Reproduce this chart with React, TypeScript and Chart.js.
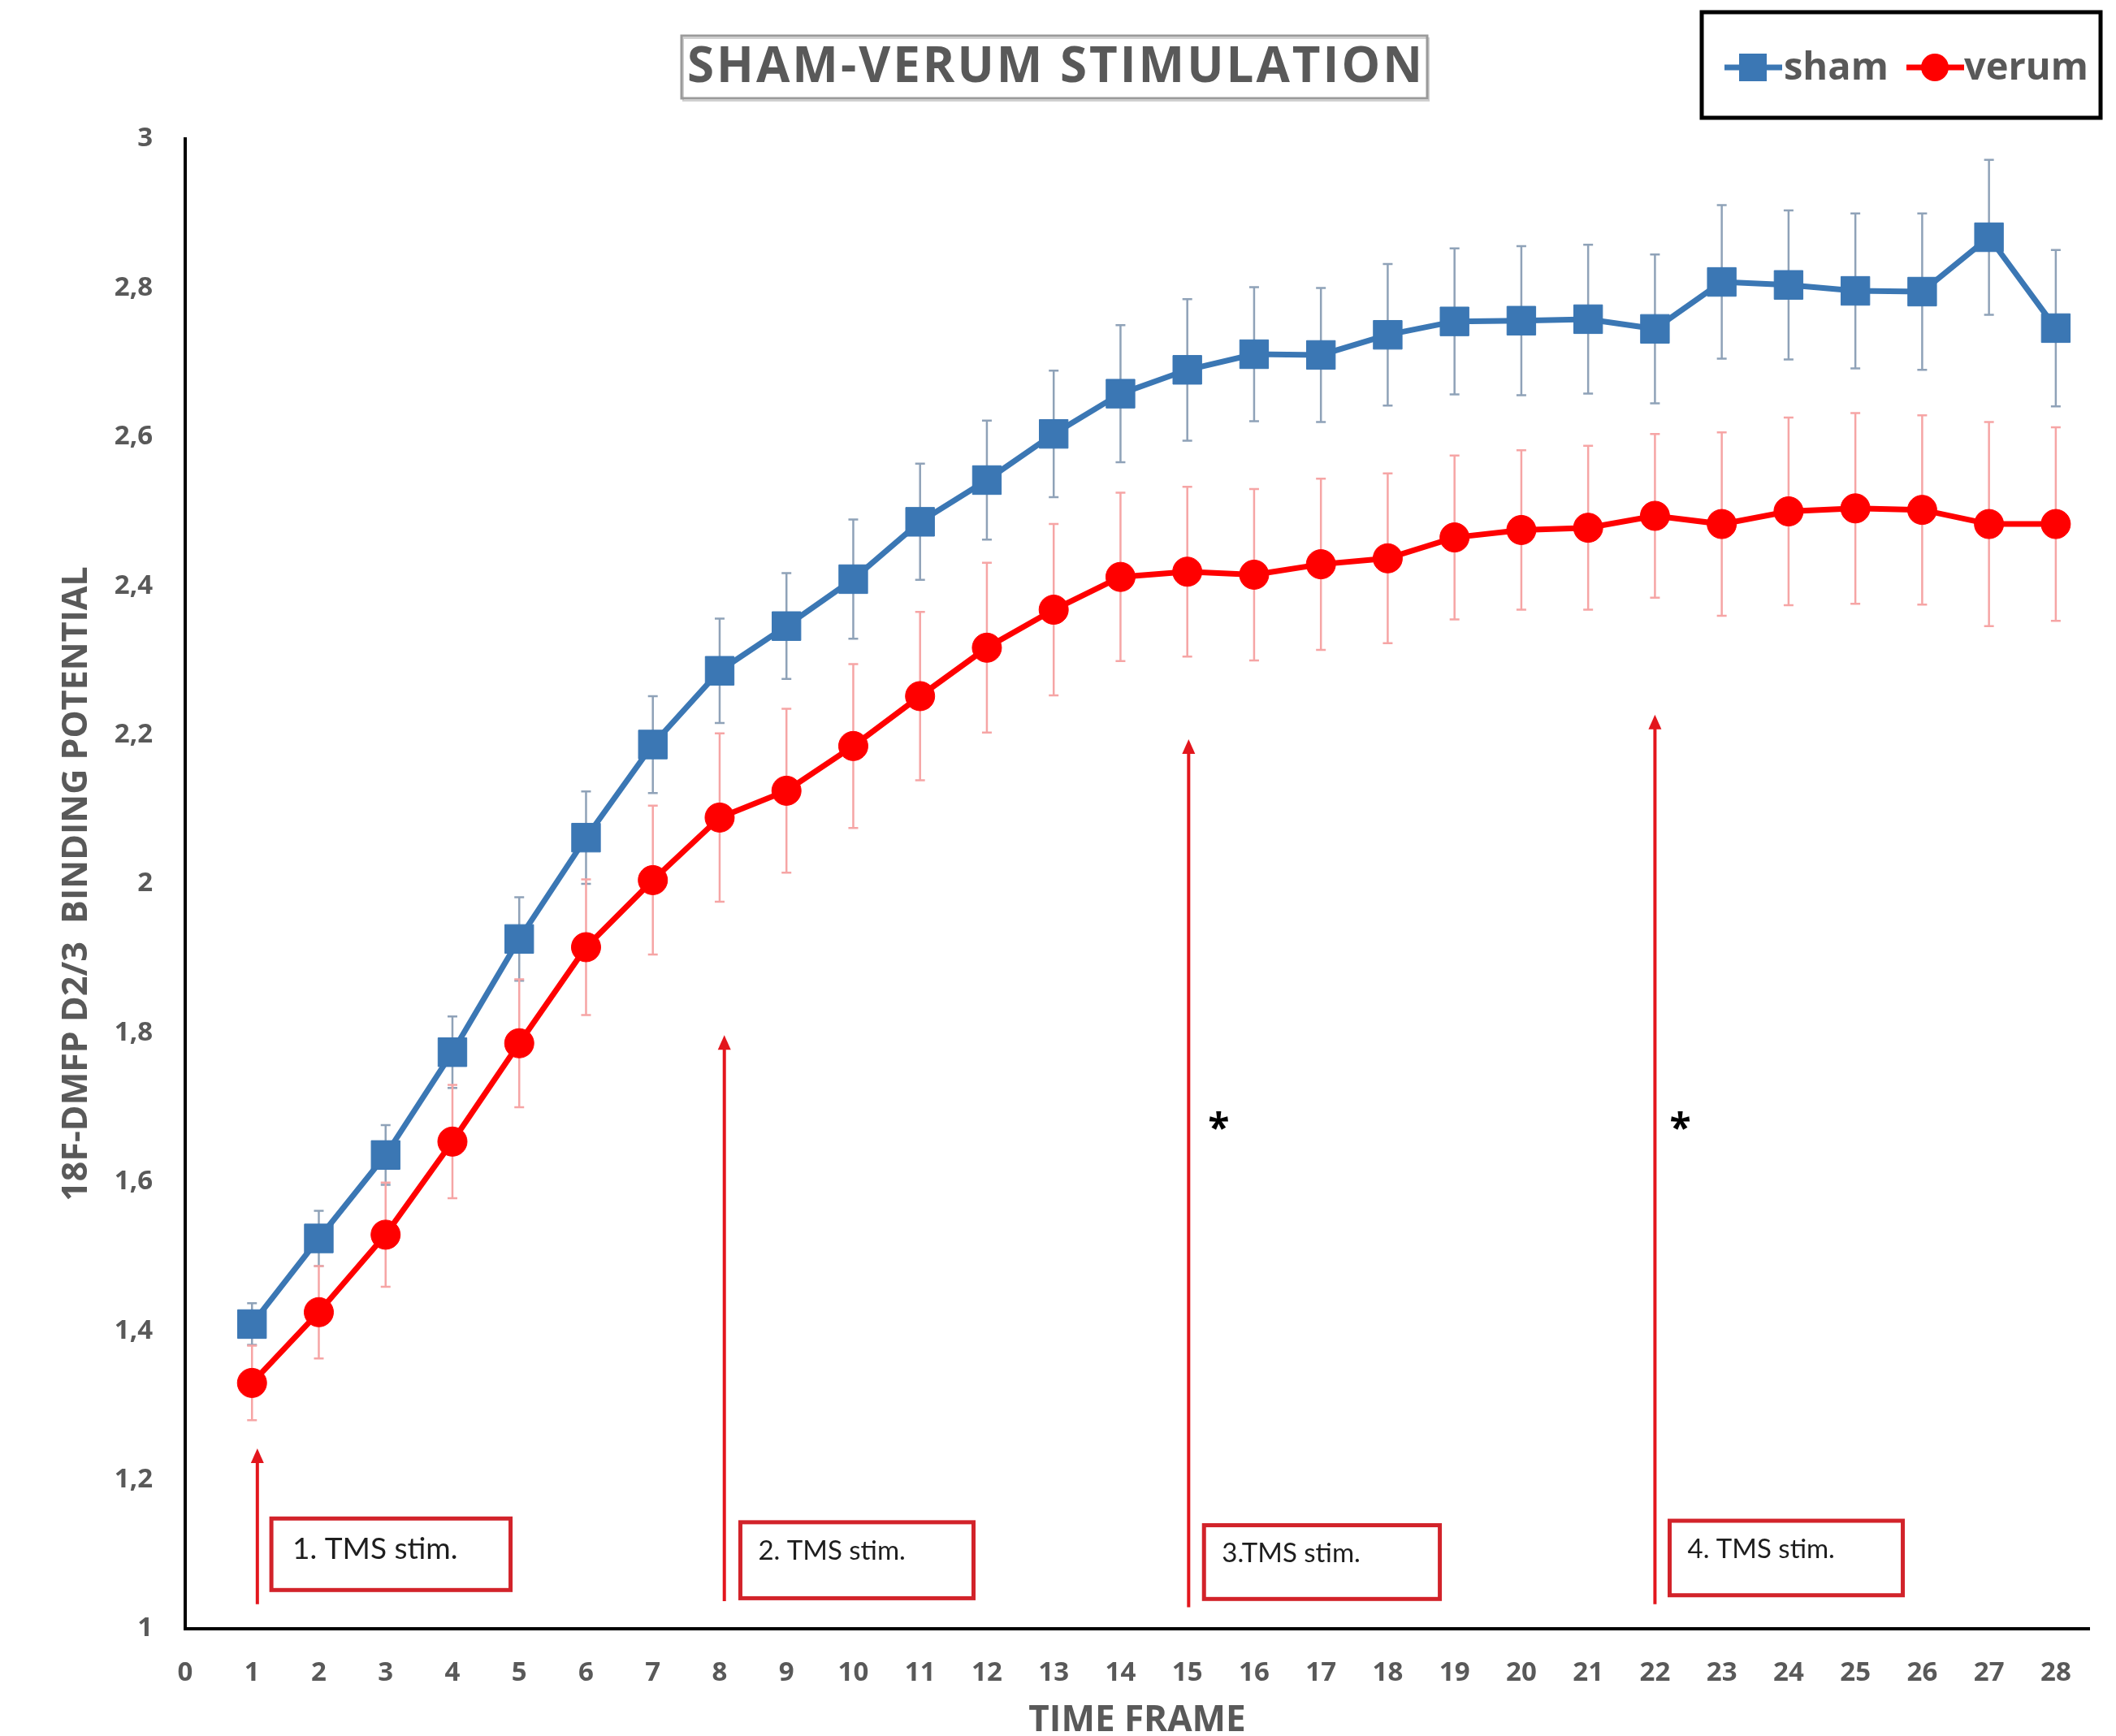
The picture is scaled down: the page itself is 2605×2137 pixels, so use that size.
import React, { useEffect, useRef } from 'react';
import { Chart, registerables } from 'chart.js';

Chart.register(...registerables);

// ---------- data ----------
const frames = [1, 2, 3, 4, 5, 6, 7, 8, 9, 10, 11, 12, 13, 14, 15, 16, 17, 18, 19, 20, 21, 22, 23, 24, 25, 26, 27, 28];
const xTickValues = [0, 1, 2, 3, 4, 5, 6, 7, 8, 9, 10, 11, 12, 13, 14, 15, 16, 17, 18, 19, 20, 21, 22, 23, 24, 25, 26, 27, 28];

const shamValues = [1.409, 1.524, 1.636, 1.774, 1.926, 2.062, 2.187, 2.286, 2.346, 2.409, 2.486, 2.542, 2.604, 2.658, 2.690, 2.711, 2.710, 2.737, 2.755, 2.756, 2.758, 2.745, 2.808, 2.804, 2.796, 2.795, 2.868, 2.746];
const shamErrors = [0.028, 0.037, 0.04, 0.048, 0.056, 0.062, 0.065, 0.07, 0.071, 0.08, 0.078, 0.08, 0.085, 0.092, 0.095, 0.09, 0.09, 0.095, 0.098, 0.1, 0.1, 0.1, 0.103, 0.1, 0.104, 0.105, 0.104, 0.105];

const verumValues = [1.330, 1.425, 1.529, 1.654, 1.786, 1.915, 2.005, 2.089, 2.125, 2.185, 2.252, 2.317, 2.368, 2.412, 2.419, 2.415, 2.429, 2.437, 2.465, 2.475, 2.478, 2.494, 2.483, 2.500, 2.504, 2.502, 2.483, 2.483];
const verumErrors = [0.05, 0.062, 0.07, 0.076, 0.086, 0.091, 0.1, 0.113, 0.11, 0.11, 0.113, 0.114, 0.115, 0.113, 0.114, 0.115, 0.115, 0.114, 0.11, 0.107, 0.11, 0.11, 0.123, 0.126, 0.128, 0.127, 0.137, 0.13];

const seriesNames = ['sham', 'verum'];
const chartTitle = 'SHAM-VERUM STIMULATION';
const xTitle = 'TIME FRAME';
const yTitle = '18F-DMFP D2/3  BINDING POTENTIAL';

// stimulation annotations (data units)
const stimLabels = ['1. TMS stim.', '2. TMS stim.', '3.TMS stim.', '4. TMS stim.'];
const stimArrowX = [1.08, 8.07, 15.02, 22.0];
const stimArrowTop = [1.242, 1.797, 2.194, 2.227];
const stimArrowBottom = [1.033, 1.037, 1.029, 1.033];
const stimBoxLeft = [1.29, 8.31, 15.25, 22.22];
const stimBoxRight = [4.87, 11.8, 18.78, 25.71];
const stimBoxTop = [1.148, 1.143, 1.139, 1.145];
const stimBoxBottom = [1.052, 1.041, 1.04, 1.045];
const asteriskX = [15.47, 22.38];
const asteriskY = [1.683, 1.683];

// ---------- styles ----------
const BLUE = '#3b77b4';
const RED = '#ff0000';
const GRAY_TEXT = '#595959';
const SHAM_ERR = '#8fa2b8';
const VERUM_ERR = '#f6a5a5';
const BOX_RED = '#d2232a';

const errorBarsPlugin = {
  id: 'errorBars',
  beforeDatasetsDraw(chart: any) {
    const ctx = chart.ctx;
    const y = chart.scales.y;
    const sets = [
      { vals: shamValues, errs: shamErrors, color: SHAM_ERR },
      { vals: verumValues, errs: verumErrors, color: VERUM_ERR },
    ];
    ctx.save();
    sets.forEach((s, di) => {
      const meta = chart.getDatasetMeta(di);
      ctx.strokeStyle = s.color;
      ctx.lineWidth = 2.5;
      meta.data.forEach((pt: any, i: number) => {
        const yt = y.getPixelForValue(s.vals[i] + s.errs[i]);
        const yb = y.getPixelForValue(s.vals[i] - s.errs[i]);
        ctx.beginPath();
        ctx.moveTo(pt.x, yt);
        ctx.lineTo(pt.x, yb);
        ctx.moveTo(pt.x - 6, yt);
        ctx.lineTo(pt.x + 6, yt);
        ctx.moveTo(pt.x - 6, yb);
        ctx.lineTo(pt.x + 6, yb);
        ctx.stroke();
      });
    });
    ctx.restore();
  },
};

const annotationsPlugin = {
  id: 'stimAnnotations',
  afterDatasetsDraw(chart: any) {
    const ctx = chart.ctx;
    const xs = chart.scales.x;
    const ys = chart.scales.y;
    ctx.save();
    stimLabels.forEach((label, i) => {
      // arrow
      const ax = xs.getPixelForValue(stimArrowX[i]);
      const ay0 = ys.getPixelForValue(stimArrowBottom[i]);
      const ay1 = ys.getPixelForValue(stimArrowTop[i]);
      ctx.strokeStyle = '#e3161d';
      ctx.fillStyle = '#e3161d';
      ctx.lineWidth = 4;
      ctx.beginPath();
      ctx.moveTo(ax, ay0);
      ctx.lineTo(ax, ay1 + 14);
      ctx.stroke();
      ctx.beginPath();
      ctx.moveTo(ax, ay1);
      ctx.lineTo(ax - 8, ay1 + 18);
      ctx.lineTo(ax + 8, ay1 + 18);
      ctx.closePath();
      ctx.fill();
      // box
      const bx0 = xs.getPixelForValue(stimBoxLeft[i]);
      const bx1 = xs.getPixelForValue(stimBoxRight[i]);
      const by0 = ys.getPixelForValue(stimBoxTop[i]);
      const by1 = ys.getPixelForValue(stimBoxBottom[i]);
      ctx.fillStyle = '#ffffff';
      ctx.fillRect(bx0, by0, bx1 - bx0, by1 - by0);
      ctx.strokeStyle = BOX_RED;
      ctx.lineWidth = 5;
      ctx.strokeRect(bx0, by0, bx1 - bx0, by1 - by0);
      ctx.fillStyle = '#1e1e1e';
      ctx.font = (i === 0 ? '37px' : '33px') + ' Lato';
      ctx.textAlign = 'left';
      ctx.textBaseline = 'middle';
      ctx.fillText(label, bx0 + (i === 0 ? 26 : 22), by0 + (i === 0 ? 38 : 35));
    });
    // asterisks
    ctx.fillStyle = '#000000';
    ctx.font = 'bold 48px "Open Sans"';
    ctx.textAlign = 'center';
    ctx.textBaseline = 'alphabetic';
    asteriskX.forEach((ax, i) => {
      const px = xs.getPixelForValue(ax);
      const py = ys.getPixelForValue(asteriskY[i]);
      ctx.fillText('*', px, py + 26);
    });
    ctx.restore();
  },
};

const headerPlugin = {
  id: 'headerAndLegend',
  afterDraw(chart: any) {
    const ctx = chart.ctx;
    ctx.save();
    // title box
    ctx.strokeStyle = '#d0d0d0';
    ctx.lineWidth = 2;
    ctx.strokeRect(841, 47, 918, 77);
    ctx.strokeStyle = '#9a9a9a';
    ctx.lineWidth = 3;
    ctx.strokeRect(839, 44, 918, 77);
    ctx.fillStyle = GRAY_TEXT;
    ctx.font = 'bold 60px "Open Sans"';
    (ctx as any).letterSpacing = '3px';
    ctx.textAlign = 'center';
    ctx.textBaseline = 'middle';
    ctx.fillText(chartTitle, 1300, 84);
    (ctx as any).letterSpacing = '0px';

    // legend
    ctx.strokeStyle = '#000000';
    ctx.lineWidth = 5;
    ctx.strokeRect(2095, 15, 491, 130);
    const ly = 83;
    const names = chart.data.datasets.map((d: any) => d.label);
    // sham
    ctx.strokeStyle = BLUE;
    ctx.lineWidth = 7;
    ctx.beginPath();
    ctx.moveTo(2123, ly);
    ctx.lineTo(2194, ly);
    ctx.stroke();
    ctx.fillStyle = BLUE;
    ctx.fillRect(2141, ly - 17, 34, 34);
    // verum
    ctx.strokeStyle = RED;
    ctx.beginPath();
    ctx.moveTo(2347, ly);
    ctx.lineTo(2418, ly);
    ctx.stroke();
    ctx.fillStyle = RED;
    ctx.beginPath();
    ctx.arc(2382, ly, 17, 0, Math.PI * 2);
    ctx.fill();
    ctx.fillStyle = GRAY_TEXT;
    ctx.font = 'bold 47px "Open Sans"';
    ctx.textAlign = 'left';
    ctx.textBaseline = 'alphabetic';
    ctx.fillText(names[0], 2196, 98);
    ctx.fillText(names[1], 2418, 98);
    ctx.restore();
  },
};

const fmtY = (v: number) => {
  const n = Number(v.toFixed(1));
  return String(n).replace('.', ',');
};

export default function App() {
  const ref = useRef<HTMLCanvasElement | null>(null);

  useEffect(() => {
    document.body.style.margin = '0';
    const canvas = ref.current;
    if (!canvas) return;
    const tickFont = { family: '"Open Sans"', size: 33, weight: 'bold' as const };
    const chart = new Chart(canvas, {
      type: 'line',
      data: {
        datasets: [
          {
            label: seriesNames[0],
            data: frames.map((f, i) => ({ x: f, y: shamValues[i] })),
            borderColor: BLUE,
            backgroundColor: BLUE,
            borderWidth: 7,
            pointStyle: 'rect',
            pointRadius: 25,
            pointBorderWidth: 1,
            pointBorderColor: BLUE,
            pointBackgroundColor: BLUE,
            tension: 0,
          },
          {
            label: seriesNames[1],
            data: frames.map((f, i) => ({ x: f, y: verumValues[i] })),
            borderColor: RED,
            backgroundColor: RED,
            borderWidth: 7,
            pointStyle: 'circle',
            pointRadius: 18,
            pointBorderWidth: 1,
            pointBorderColor: RED,
            pointBackgroundColor: RED,
            tension: 0,
          },
        ],
      },
      options: {
        responsive: false,
        animation: false,
        devicePixelRatio: 1,
        layout: { padding: { left: 0, top: 171, right: 33, bottom: 0 } },
        plugins: {
          legend: { display: false },
          title: { display: false },
          tooltip: { enabled: false },
        },
        scales: {
          x: {
            type: 'linear',
            min: 0,
            max: 28.5,
            afterBuildTicks: (s: any) => {
              s.ticks = xTickValues.map((v) => ({ value: v }));
            },
            afterFit: (s: any) => {
              s.height = 132;
            },
            grid: { display: false, drawTicks: false },
            border: { display: true, color: '#000000', width: 4 },
            ticks: { padding: 35, color: GRAY_TEXT, font: tickFont, autoSkip: false, maxRotation: 0 },
            title: {
              display: true,
              text: xTitle,
              color: GRAY_TEXT,
              font: { family: '"Open Sans"', size: 44, weight: 'bold', lineHeight: 0.86 },
              padding: 0,
            },
          },
          y: {
            type: 'linear',
            min: 1,
            max: 3,
            afterFit: (s: any) => {
              s.width = 228;
            },
            grid: { display: false, drawTicks: false },
            border: { display: true, color: '#000000', width: 4 },
            ticks: {
              stepSize: 0.2,
              padding: 40,
              color: GRAY_TEXT,
              font: tickFont,
              callback: (v: any) => fmtY(Number(v)),
            },
            title: {
              display: true,
              text: yTitle,
              color: GRAY_TEXT,
              font: { family: '"Open Sans"', size: 43, weight: 'bold', lineHeight: 1.2 },
              padding: { top: 69, bottom: 0 },
            },
          },
        },
      },
      plugins: [errorBarsPlugin, annotationsPlugin, headerPlugin],
    });
    return () => chart.destroy();
  }, []);

  return <canvas ref={ref} width={2605} height={2137} style={{ display: 'block', width: 2605, height: 2137 }} />;
}
